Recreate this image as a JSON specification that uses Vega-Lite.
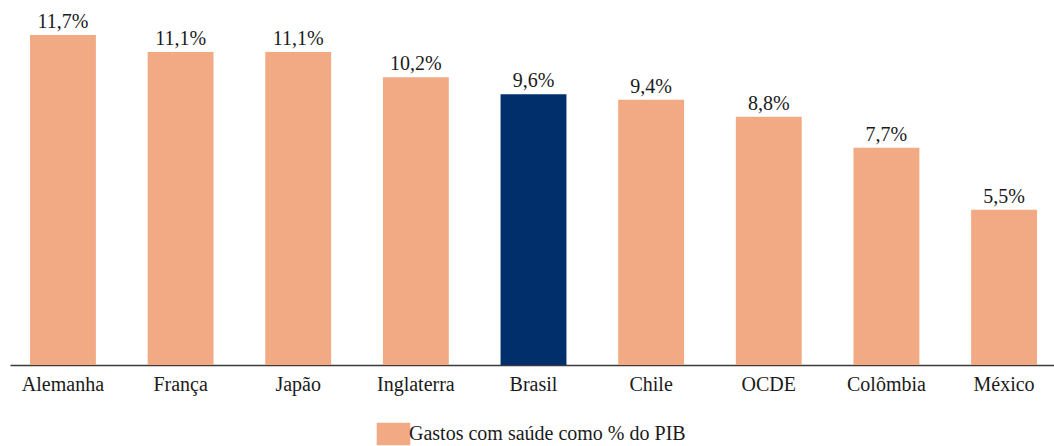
{
  "$schema": "https://vega.github.io/schema/vega-lite/v6.json",
  "autosize": "none",
  "width": 1047,
  "height": 338.5,
  "padding": {"left": 10, "top": 26.5, "right": 0, "bottom": 81},
  "background": "white",
  "config": {"view": {"stroke": null}, "font": "Liberation Serif"},
  "data": {"values": [
    {"pais": "Alemanha", "valor": 11.7, "rotulo": "11,7%", "serie": "Gastos com saúde como % do PIB"},
    {"pais": "França", "valor": 11.1, "rotulo": "11,1%", "serie": "Gastos com saúde como % do PIB"},
    {"pais": "Japão", "valor": 11.1, "rotulo": "11,1%", "serie": "Gastos com saúde como % do PIB"},
    {"pais": "Inglaterra", "valor": 10.2, "rotulo": "10,2%", "serie": "Gastos com saúde como % do PIB"},
    {"pais": "Brasil", "valor": 9.6, "rotulo": "9,6%", "serie": "Brasil"},
    {"pais": "Chile", "valor": 9.4, "rotulo": "9,4%", "serie": "Gastos com saúde como % do PIB"},
    {"pais": "OCDE", "valor": 8.8, "rotulo": "8,8%", "serie": "Gastos com saúde como % do PIB"},
    {"pais": "Colômbia", "valor": 7.7, "rotulo": "7,7%", "serie": "Gastos com saúde como % do PIB"},
    {"pais": "México", "valor": 5.5, "rotulo": "5,5%", "serie": "Gastos com saúde como % do PIB"}
  ]},
  "encoding": {
    "x": {"field": "pais", "type": "nominal", "sort": null,
      "scale": {"paddingInner": 0.44, "paddingOuter": 0.17},
      "axis": {"title": null, "labelAngle": 0, "ticks": false, "labelFontSize": 20, "labelColor": "#1a1a1a", "labelPadding": 9, "domainColor": "#3a3a3a", "domainWidth": 1.5, "grid": false, "labelFont": "Liberation Serif"}},
    "y": {"field": "valor", "type": "quantitative", "scale": {"domain": [0, 12], "nice": false}, "axis": null}
  },
  "layer": [
    {"mark": {"type": "bar"},
     "encoding": {"color": {"field": "serie", "type": "nominal",
        "scale": {"domain": ["Gastos com saúde como % do PIB", "Brasil"], "range": ["#F2AA85", "#002F6C"]},
        "legend": {"title": null, "values": ["Gastos com saúde como % do PIB"], "orient": "none", "legendX": 372, "legendY": 396, "padding": 0,
          "symbolType": "M-1.5,-1L1.5,-1L1.5,1L-1.5,1Z", "symbolSize": 500, "symbolStrokeWidth": 0, "labelFontSize": 20, "labelLimit": 0, "labelColor": "#1a1a1a", "labelFont": "Liberation Serif", "labelOffset": 4}}}},
    {"mark": {"type": "text", "baseline": "alphabetic", "dy": -7, "fontSize": 20, "color": "#1a1a1a", "font": "Liberation Serif"},
     "encoding": {"text": {"field": "rotulo"}}}
  ]
}
